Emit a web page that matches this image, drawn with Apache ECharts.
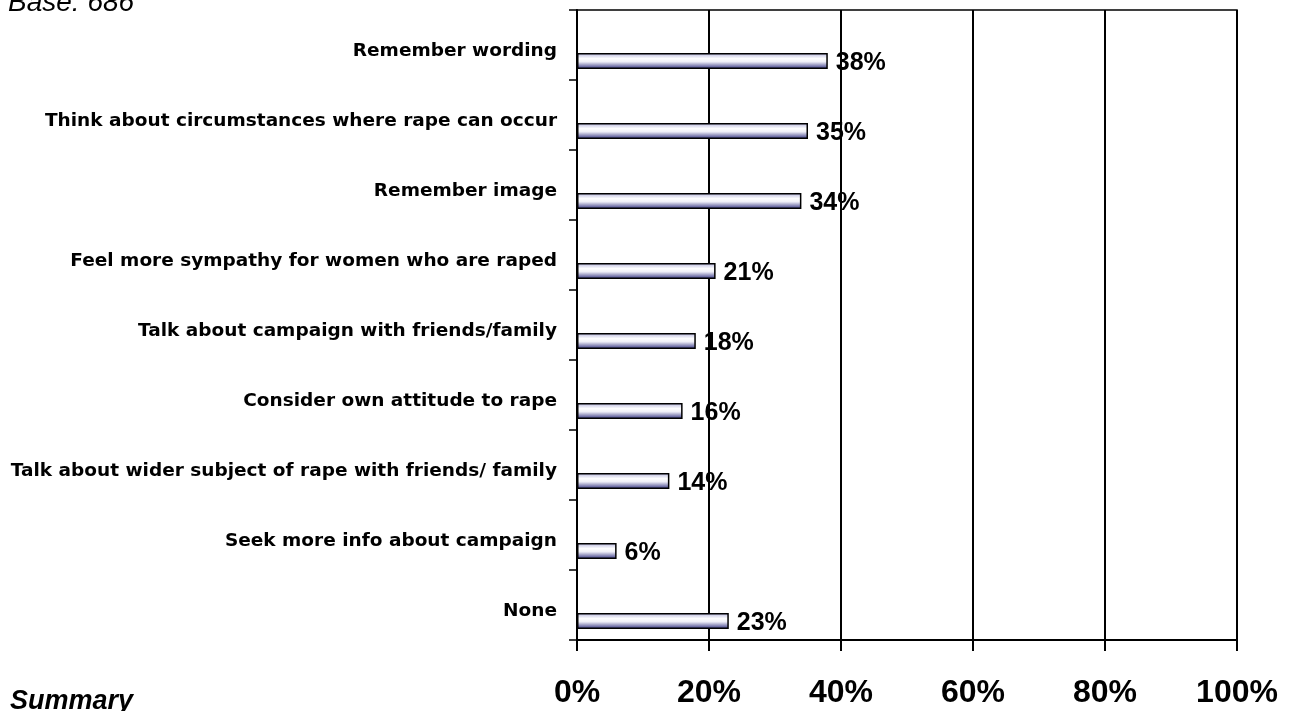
<!DOCTYPE html>
<html>
<head>
<meta charset="utf-8">
<script src="https://cdn.jsdelivr.net/npm/echarts@6/dist/echarts.min.js"></script>
<style>
  html, body { margin: 0; padding: 0; background: #fff; }
  #chart { width: 1298px; height: 711px; }
</style>
</head>
<body>
<div id="chart"></div>
<script>
// Campaign outcomes (percent of respondents)
const categories = [
  'Remember wording',
  'Think about circumstances where rape can occur',
  'Remember image',
  'Feel more sympathy for women who are raped',
  'Talk about campaign with friends/family',
  'Consider own attitude to rape',
  'Talk about wider subject of rape with friends/ family',
  'Seek more info about campaign',
  'None'
];
const values = [38, 35, 34, 21, 18, 16, 14, 6, 23];
const axisMin = 0;
const axisMax = 100;
const axisStep = 20;
const baseText = 'Base: 686';
const footerText = 'Summary';

const FONT = '"Liberation Sans", Arial, Helvetica, sans-serif';
const WIDE_FONT = '"DejaVu Sans", Verdana, sans-serif';

const chart = echarts.init(document.getElementById('chart'), null, { renderer: 'canvas' });

const barFill = new echarts.graphic.LinearGradient(0, 0, 0, 1, [
  { offset: 0, color: '#b4b4dc' },
  { offset: 0.35, color: '#ffffff' },
  { offset: 0.55, color: '#eeeef8' },
  { offset: 1, color: '#2e2e7e' }
]);

chart.setOption({
  animation: false,
  backgroundColor: '#ffffff',
  grid: {
    left: 577, right: 61, top: 10, bottom: 71,
    show: true, borderColor: '#000', borderWidth: 1.5, backgroundColor: 'transparent'
  },
  xAxis: {
    type: 'value',
    min: axisMin, max: axisMax, interval: axisStep,
    axisLine: { show: true, lineStyle: { color: '#000', width: 2 } },
    axisTick: { show: true, length: 11, lineStyle: { color: '#000', width: 2 } },
    splitLine: { show: true, lineStyle: { color: '#000', width: 2 } },
    axisLabel: {
      formatter: '{value}%', margin: 37,
      fontFamily: FONT, fontWeight: 'bold', fontSize: 32, color: '#000'
    }
  },
  yAxis: {
    type: 'category',
    inverse: true,
    data: categories,
    axisLine: { show: true, lineStyle: { color: '#000', width: 2 } },
    axisTick: { show: true, length: 8, interval: 0, lineStyle: { color: '#000', width: 1.5 } },
    axisLabel: {
      margin: 20, verticalAlign: 'top', lineHeight: 12,
      fontFamily: WIDE_FONT, fontWeight: 'bold', fontSize: 18.5, color: '#000'
    }
  },
  series: [
    {
      // spacer that pushes the visible bar toward the lower part of each band
      type: 'bar', name: 'spacer', data: values, silent: true,
      barWidth: 16, barGap: '100%',
      itemStyle: { color: 'transparent' }
    },
    {
      type: 'bar', name: 'share', data: values,
      barWidth: 16, barGap: '100%',
      itemStyle: { color: barFill, borderColor: '#000', borderWidth: 1.5 },
      label: {
        show: true, position: 'right', distance: 8, offset: [0, 2],
        formatter: '{c}%',
        fontFamily: FONT, fontWeight: 'bold', fontSize: 25, color: '#000'
      }
    }
  ],
  graphic: [
    {
      type: 'text', left: 8, top: -11,
      style: { text: baseText, font: 'italic 28px ' + FONT, fill: '#000' }
    },
    {
      type: 'text', left: 10, top: 688,
      style: { text: footerText, font: 'italic bold 27px ' + FONT, fill: '#000' }
    }
  ]
});
</script>
</body>
</html>
